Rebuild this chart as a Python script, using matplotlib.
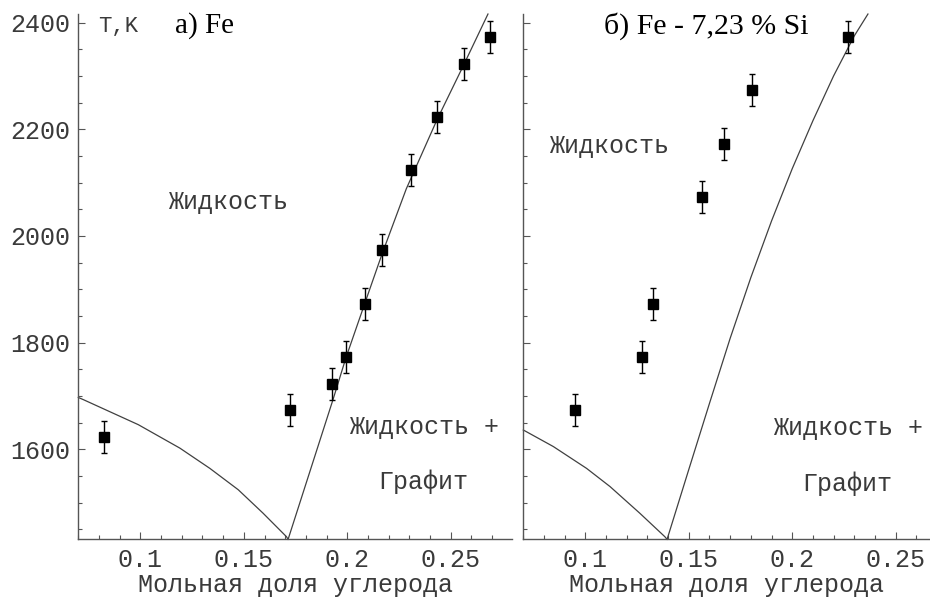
import matplotlib
matplotlib.use("Agg")
import matplotlib.pyplot as plt
from matplotlib.ticker import MultipleLocator

# Fe: experimental points (mole fraction C, T in K)
fe_x = [0.0826, 0.1722, 0.1924, 0.1993, 0.2088, 0.2170, 0.2308, 0.2433, 0.2562, 0.2691]
fe_t = [1623, 1673, 1723, 1773, 1873, 1973, 2123, 2223, 2323, 2373]
# Fe - 7.23 % Si: experimental points
si_x = [0.0950, 0.1275, 0.1328, 0.1564, 0.1671, 0.1806, 0.2269]
si_t = [1673, 1773, 1873, 2073, 2173, 2273, 2373]
t_err = 30

# calculated liquidus curves
fe_aus_x = [0.070, 0.0724, 0.099, 0.1191, 0.1336, 0.1473, 0.1593, 0.1706, 0.1714]
fe_aus_t = [1697, 1693, 1646, 1602, 1564, 1524, 1480, 1436, 1431]
fe_gr_x = [0.1714, 0.1931, 0.1994, 0.2087, 0.2168, 0.2285, 0.2434, 0.2562, 0.2680]
fe_gr_t = [1431, 1693, 1772, 1876, 1966, 2088, 2218, 2320, 2416]

si_aus_x = [0.070, 0.0845, 0.1006, 0.1119, 0.1263, 0.1384, 0.1395]
si_aus_t = [1636, 1605, 1564, 1530, 1480, 1436, 1431]
si_gr_x = [0.1395, 0.150, 0.160, 0.170, 0.180, 0.190, 0.200, 0.210, 0.220, 0.230, 0.2366]
si_gr_t = [1431, 1562, 1686, 1808, 1922, 2028, 2126, 2216, 2300, 2375, 2416]

xticks = [0.1, 0.15, 0.2, 0.25]
xtick_labels = ["0.1", "0.15", "0.2", "0.25"]
yticks = [1600, 1800, 2000, 2200, 2400]

mono = "Liberation Mono"
serif = "Liberation Serif"
txt_col = "#3a3a3a"
ax_col = "#555555"

fig = plt.figure(figsize=(9.30, 6.02), dpi=100)
ax1 = fig.add_axes([0.0842, 0.1041, 0.4663, 0.8726])
ax2 = fig.add_axes([0.5627, 0.1041, 0.4373, 0.8726])


def style(ax, xmax, ylabels):
    ax.set_xlim(0.07, xmax)
    ax.set_ylim(1431, 2416)
    for s in ["top", "right"]:
        ax.spines[s].set_visible(False)
    for s in ["left", "bottom"]:
        ax.spines[s].set_color(ax_col)
        ax.spines[s].set_linewidth(1.0)
    ax.set_xticks(xticks)
    ax.set_xticklabels(xtick_labels)
    ax.xaxis.set_minor_locator(MultipleLocator(0.01))
    ax.set_yticks(yticks)
    ax.yaxis.set_minor_locator(MultipleLocator(50))
    ax.tick_params(which="major", direction="in", length=5, width=0.8, color=ax_col,
                   labelsize=18, labelcolor=txt_col, pad=6)
    ax.tick_params(which="minor", direction="in", length=3, width=0.8, color=ax_col)
    if not ylabels:
        ax.tick_params(axis="y", labelleft=False)
    for lab in ax.get_xticklabels() + ax.get_yticklabels():
        lab.set_family(mono)
    ax.set_xlabel("Мольная доля углерода", family=mono, fontsize=18, color=txt_col, labelpad=1)


style(ax1, 0.2796, True)
style(ax2, 0.2666, False)

line_kw = dict(color="#404040", lw=0.9)
ax1.plot(fe_aus_x, fe_aus_t, **line_kw)
ax1.plot(fe_gr_x, fe_gr_t, **line_kw)
ax2.plot(si_aus_x, si_aus_t, **line_kw)
ax2.plot(si_gr_x, si_gr_t, **line_kw)

pt_kw = dict(fmt="s", color="black", ms=6.8, elinewidth=1.0, capsize=2.2, capthick=1.0, zorder=3)
ax1.errorbar(fe_x, fe_t, yerr=t_err, **pt_kw)
ax2.errorbar(si_x, si_t, yerr=t_err, **pt_kw)

for ax in (ax1, ax2):
    for c in ax.collections + ax.lines:
        c.set_clip_on(False)

# region labels
ax1.text(0.1423, 2064, "Жидкость", family=mono, fontsize=18, color=txt_col, ha="center", va="center")
ax1.text(0.2369, 1642, "Жидкость +", family=mono, fontsize=18, color=txt_col, ha="center", va="center")
ax1.text(0.2369, 1539, "Графит", family=mono, fontsize=18, color=txt_col, ha="center", va="center")
ax2.text(0.1114, 2168, "Жидкость", family=mono, fontsize=18, color=txt_col, ha="center", va="center")
ax2.text(0.2268, 1639, "Жидкость +", family=mono, fontsize=18, color=txt_col, ha="center", va="center")
ax2.text(0.2268, 1536, "Графит", family=mono, fontsize=18, color=txt_col, ha="center", va="center")

# titles inside the panels
fig.text(118.5 / 930, 1 - 26.7 / 602, "T,K", family=mono, fontsize=16, color=txt_col, ha="center", va="center")
fig.text(204 / 930, 1 - 26 / 602, "а) Fe", family=serif, fontsize=21, color="black", ha="center", va="center")
fig.text(706.5 / 930, 1 - 26 / 602, "б) Fe - 7,23 % Si", family=serif, fontsize=21.5, color="black", ha="center", va="center")

fig.savefig("out.png", dpi=100)
